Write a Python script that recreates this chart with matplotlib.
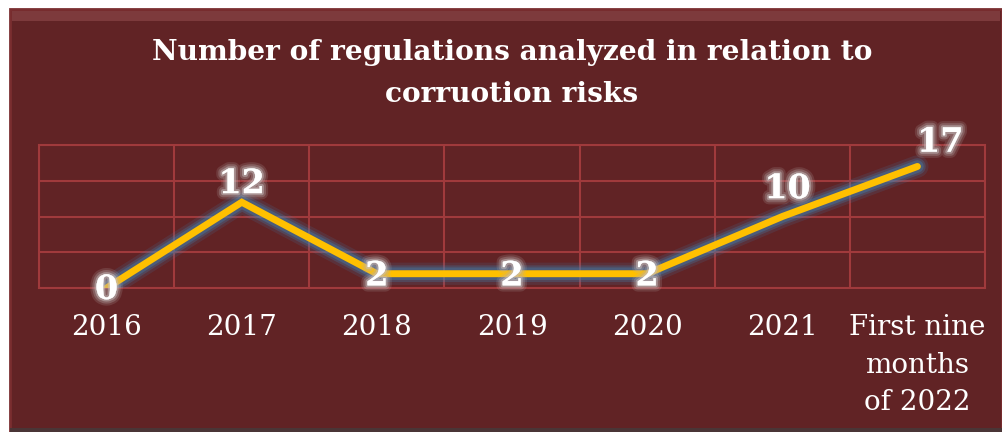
import matplotlib.pyplot as plt
import matplotlib.patches as mpatches
import matplotlib.patheffects as pe

categories = ["2016", "2017", "2018", "2019", "2020", "2021", "First nine\nmonths\nof 2022"]
values = [0, 12, 2, 2, 2, 10, 17]
title = "Number of regulations analyzed in relation to\ncorruotion risks"

BG = "#612325"
GRID = "#A03A3C"
LINE = "#FFC000"

fig = plt.figure(figsize=(10.02, 4.32), dpi=100)
fig.patch.set_facecolor("white")

# chart frame with a bevel
fig.patches.append(mpatches.Rectangle((0.010, 0.0), 0.990, 0.979, transform=fig.transFigure,
                                      facecolor=BG, edgecolor="#7a2e30", linewidth=2, zorder=-3))
fig.patches.append(mpatches.Rectangle((0.012, 0.952), 0.986, 0.022, transform=fig.transFigure,
                                      facecolor="#8a4446", edgecolor="none", alpha=0.7, zorder=-2))
fig.patches.append(mpatches.Rectangle((0.010, 0.0), 0.990, 0.010, transform=fig.transFigure,
                                      facecolor="#4a3536", edgecolor="none", zorder=-2))

ax = fig.add_axes([0.039, 0.3333, 0.944, 0.331])
ax.set_facecolor(BG)
x = list(range(len(categories)))

# glow under line
for w, a in [(16, 0.15), (12, 0.25), (9, 0.35)]:
    ax.plot(x, values, color="#3d86b8", linewidth=w, alpha=a, solid_capstyle="round",
            solid_joinstyle="miter", zorder=3)
ax.plot(x, values, color=LINE, linewidth=5, solid_capstyle="round",
        solid_joinstyle="miter", zorder=4)

ax.set_xlim(-0.5, len(categories) - 0.5)
ax.set_ylim(0, 20)
ax.set_yticks([0, 5, 10, 15, 20])
ax.set_xticks([i + 0.5 for i in range(-1, len(categories))])
ax.grid(True, color=GRID, linewidth=1.5)
ax.tick_params(length=0, labelleft=False, labelbottom=False)
for s in ax.spines.values():
    s.set_color(GRID)
    s.set_linewidth(1.5)

for i, c in enumerate(categories):
    ax.text(i, -3.7, c, ha="center", va="top", fontsize=20, color="white",
            family="DejaVu Serif", linespacing=1.5)

# data labels
offsets = {0: (0, -0.2), 1: (0, 2.6), 2: (0, -0.3), 3: (0, -0.3), 4: (0, -0.3),
           5: (0.04, 3.9), 6: (0.17, 3.4)}
glow = [pe.withStroke(linewidth=9, foreground="#b8aeae", alpha=0.18),
        pe.withStroke(linewidth=6, foreground="#b8aeae", alpha=0.3),
        pe.withStroke(linewidth=3, foreground="#c8c0c0", alpha=0.5)]
for i, v in enumerate(values):
    dx, dy = offsets[i]
    ax.text(i + dx, v + dy, str(v), ha="center", va="center", fontsize=24,
            fontweight="bold", color="white", family="DejaVu Serif",
            path_effects=glow, zorder=6, clip_on=False)

fig.text(0.511, 0.83, title, ha="center", va="center", fontsize=20.2,
         fontweight="bold", color="white", family="DejaVu Serif", linespacing=1.7)

fig.savefig("out.png", dpi=100, facecolor=fig.get_facecolor())
